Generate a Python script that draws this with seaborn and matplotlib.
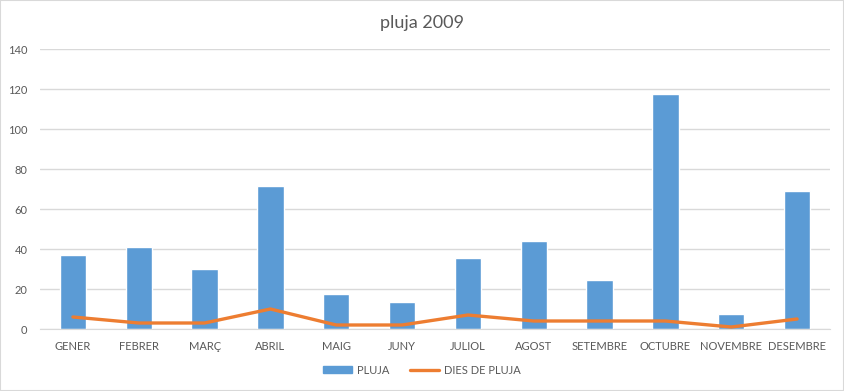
import pandas as pd
import matplotlib.pyplot as plt
import seaborn as sns
from matplotlib.lines import Line2D
from matplotlib.patches import Patch

# ── dades ──────────────────────────────────────────────────────────────────
mesos = ['GENER', 'FEBRER', 'MARÇ', 'ABRIL', 'MAIG', 'JUNY', 'JULIOL',
         'AGOST', 'SETEMBRE', 'OCTUBRE', 'NOVEMBRE', 'DESEMBRE']
pluja = [37, 41, 30, 71.5, 17.5, 13.5, 35.5, 44, 24.5, 117.5, 7.5, 69]
dies_pluja = [6, 3, 3, 10, 2, 2, 7, 4, 4, 4, 1, 5]

BLUE = '#5B9BD5'
ORANGE = '#ED7D31'
GREY_TXT = '#595959'

sns.set_style('white')
plt.rcParams['font.family'] = ['Lato', 'DejaVu Sans']

df = pd.DataFrame({'mes': mesos, 'pluja': pluja, 'dies': dies_pluja})

fig = plt.figure(figsize=(8.44, 3.91), dpi=100)
ax = fig.add_axes([40 / 844, 62 / 391, 790 / 844, 280 / 391])

sns.barplot(data=df, x='mes', y='pluja', color=BLUE, width=0.4,
            saturation=1, ax=ax, zorder=2)
sns.lineplot(x=range(len(mesos)), y=df['dies'], color=ORANGE,
             linewidth=2.4, ax=ax, zorder=3)

ax.set_ylim(0, 140)
ax.set_xlim(-0.5, len(mesos) - 0.5)
ax.set_yticks(range(0, 141, 20))
ax.yaxis.grid(True, color='#D9D9D9', linewidth=1)
ax.set_axisbelow(True)
for s in ['top', 'right', 'left']:
    ax.spines[s].set_visible(False)
ax.spines['bottom'].set_color('#D9D9D9')
ax.tick_params(axis='both', length=0, labelsize=8, labelcolor=GREY_TXT)
ax.tick_params(axis='x', pad=9)
ax.tick_params(axis='y', pad=9)
ax.set_xlabel('')
ax.set_ylabel('')

fig.text(0.5, 1 - 23 / 391, 'pluja 2009', ha='center', va='center',
         fontsize=13, color=GREY_TXT)

handles = [Patch(color=BLUE, label='PLUJA'),
           Line2D([0], [0], color=ORANGE, linewidth=2.4, label='DIES DE PLUJA')]
fig.legend(handles=handles, loc='center', bbox_to_anchor=(0.5, 1 - 370 / 391),
           ncol=2, frameon=False, fontsize=8, labelcolor=GREY_TXT,
           handlelength=2.6, handleheight=0.5, handletextpad=0.5,
           columnspacing=1.8)

# vora del gràfic
fig.patches.append(plt.Rectangle((0, 0), 1, 1, transform=fig.transFigure,
                                 fill=False, edgecolor='#D9D9D9', linewidth=1.5))

fig.savefig('out.png', dpi=100)
